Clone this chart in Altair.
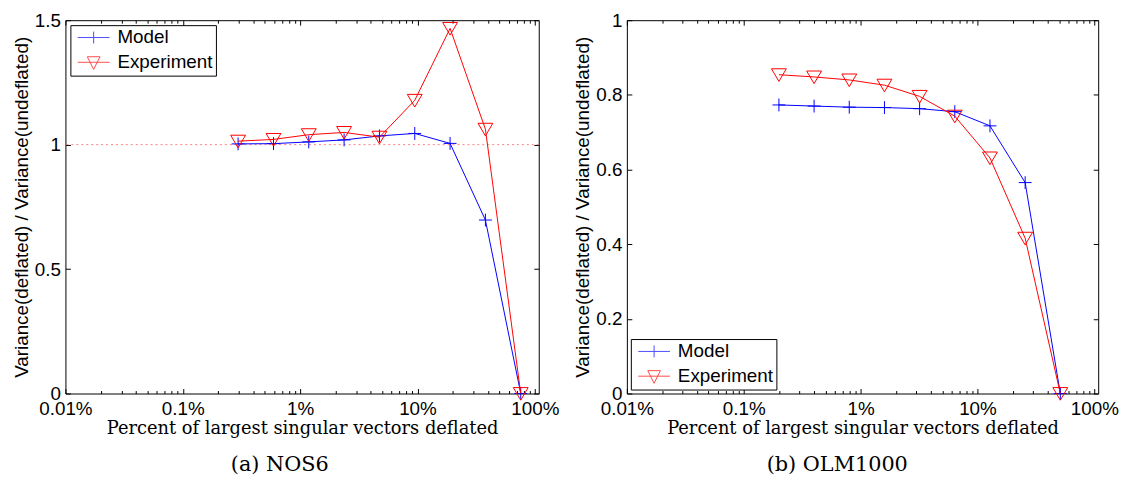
import altair as alt
import pandas as pd

# ---------------- data ----------------
# (a) NOS6 : percent of largest singular vectors deflated
nos6_pct = [0.296, 0.593, 1.185, 2.370, 4.741, 9.481, 18.96, 37.93, 75.85]
nos6_model = [1.003, 1.004, 1.011, 1.019, 1.035, 1.045, 1.005, 0.697, 0.0]
nos6_experiment = [1.014, 1.021, 1.040, 1.049, 1.030, 1.178, 1.467, 1.062, 0.0]

# (b) OLM1000
olm_pct = [0.2, 0.4, 0.8, 1.6, 3.2, 6.4, 12.8, 25.6, 51.2]
olm_model = [0.773, 0.770, 0.767, 0.766, 0.763, 0.755, 0.717, 0.565, 0.0]
olm_experiment = [0.854, 0.848, 0.840, 0.826, 0.796, 0.743, 0.631, 0.416, 0.0]

series_names = ["Model", "Experiment"]
series_colors = ["#0000ff", "#ff0000"]

x_major = [0.01, 0.1, 1, 10, 100]
x_minor = [round(k * 10.0 ** e, 6) for e in range(-2, 2) for k in range(2, 10)]
nos6_yticks = [0, 0.5, 1, 1.5]
olm_yticks = [0, 0.2, 0.4, 0.6, 0.8, 1]
reference_level = [1.0]

# ---------------- styling ----------------
SANS = "Liberation Sans"
SERIF = "DejaVu Serif"
PLUS = "M-1,0L1,0M0,-1L0,1"
TRI = "M-1,-0.8L1,-0.8L0,0.9Z"
LEG_MODEL = "M-1,0L3,0M1,-0.75L1,0.75"
LEG_EXP = "M-1,0L3,0M0.2,-0.7L1.8,-0.7L1,0.9Z"


def tick_axis(orient, values, size, offset):
    return alt.Axis(orient=orient, values=values, tickSize=size, offset=offset,
                    labels=False, domain=False, grid=False, ticks=True,
                    tickColor="black", tickWidth=1, title=None)


def panel(pct, model, exp, y_max, yticks, W, H, lx, ly, caption, ref_line, dx):
    df = pd.DataFrame({"pct": pct, "model": model, "exp": exp})
    xs = alt.Scale(type="log", domain=[0.01, 108], nice=False)
    ys = alt.Scale(domain=[0, y_max], nice=False, zero=False)
    base = alt.Chart(df)

    main_x = alt.Axis(orient="bottom", values=x_major, labelExpr="datum.value + '%'",
                      labelFlush=False, labelOverlap=False, ticks=False, tickSize=0,
                      domain=False, grid=False, labelPadding=6.5, labelFont=SANS,
                      labelFontSize=19, labelColor="black",
                      title="Percent of largest singular vectors deflated",
                      titleFont=SERIF, titleFontSize=18, titleFontWeight="normal",
                      titleColor="black", titlePadding=1)
    main_y = alt.Axis(orient="left", values=yticks, format="~g", ticks=False, tickSize=0,
                      domain=False, grid=False, labelPadding=5, labelFont=SANS,
                      labelFontSize=19, labelColor="black",
                      title="Variance(deflated) / Variance(undeflated)",
                      titleFont=SANS, titleFontSize=19, titleFontWeight="normal",
                      titleColor="black", titlePadding=3)

    layers = []
    if ref_line:
        rule = alt.Chart(pd.DataFrame({"level": reference_level})).mark_rule(
            color="#ff8080", strokeDash=[2, 3], strokeWidth=1
        ).encode(y=alt.Y("level:Q", scale=ys, axis=None))
        layers.append(rule)

    m_line = base.mark_line(color=series_colors[0], strokeWidth=1).encode(
        x=alt.X("pct:Q", scale=xs, axis=main_x),
        y=alt.Y("model:Q", scale=ys, axis=main_y))
    m_pts = base.mark_point(shape=PLUS, size=169, color=series_colors[0], filled=False,
                            strokeWidth=1, opacity=1).encode(
        x=alt.X("pct:Q", scale=xs, axis=tick_axis("top", x_major, 5, -H)),
        y=alt.Y("model:Q", scale=ys, axis=tick_axis("right", yticks, 5, -W)))
    e_line = base.mark_line(color=series_colors[1], strokeWidth=1).encode(
        x=alt.X("pct:Q", scale=xs, axis=tick_axis("bottom", x_major, 5, -H)),
        y=alt.Y("exp:Q", scale=ys, axis=tick_axis("left", yticks, 5, -W)))
    e_pts = base.mark_point(shape=TRI, size=225, color=series_colors[1], filled=False,
                            strokeWidth=1, opacity=1).encode(
        x=alt.X("pct:Q", scale=xs, axis=tick_axis("top", x_minor, 3, -H)),
        y=alt.Y("exp:Q", scale=ys, axis=None))

    leg = alt.Legend(title=None, orient="none", legendX=lx, legendY=ly, direction="vertical",
                     strokeColor="black", fillColor="white", padding=3, rowPadding=5,
                     symbolSize=256, symbolStrokeWidth=1, symbolOffset=3, labelOffset=22.5,
                     labelFont=SANS, labelFontSize=19, labelColor="black", labelLimit=400)
    legend_layer = base.transform_filter("false").mark_point(filled=False, strokeWidth=1).encode(
        x=alt.X("pct:Q", scale=xs, axis=tick_axis("bottom", x_minor, 3, -H)),
        y=alt.Y("exp:Q", scale=ys, axis=None),
        color=alt.Color("series:N", scale=alt.Scale(domain=series_names, range=series_colors),
                        legend=leg),
        shape=alt.Shape("series:N", scale=alt.Scale(domain=series_names, range=[LEG_MODEL, LEG_EXP]),
                        legend=leg))

    layers += [m_line, m_pts, e_line, e_pts, legend_layer]
    return alt.layer(*layers).resolve_axis(x="independent", y="independent").properties(
        width=W, height=H,
        title=alt.TitleParams(caption, orient="bottom", font=SERIF, fontSize=21,
                              fontWeight="normal", color="black", anchor="middle",
                              frame="bounds", offset=17, dx=dx))


pa = panel(nos6_pct, nos6_model, nos6_experiment, 1.5, nos6_yticks, 478, 377, 5, 5,
           "(a) NOS6", True, -6)
pb = panel(olm_pct, olm_model, olm_experiment, 1.0, olm_yticks, 476, 377, 4, 322,
           "(b) OLM1000", False, -9)

chart = alt.hconcat(pa, pb, spacing=14).resolve_scale(
    color="independent", shape="independent"
).configure_view(stroke="black", strokeWidth=1).properties(
    padding={"left": 4, "top": 0, "right": 0, "bottom": 0}, background="white")

chart.save("out.html", embed_options={"renderer": "svg", "actions": False})
